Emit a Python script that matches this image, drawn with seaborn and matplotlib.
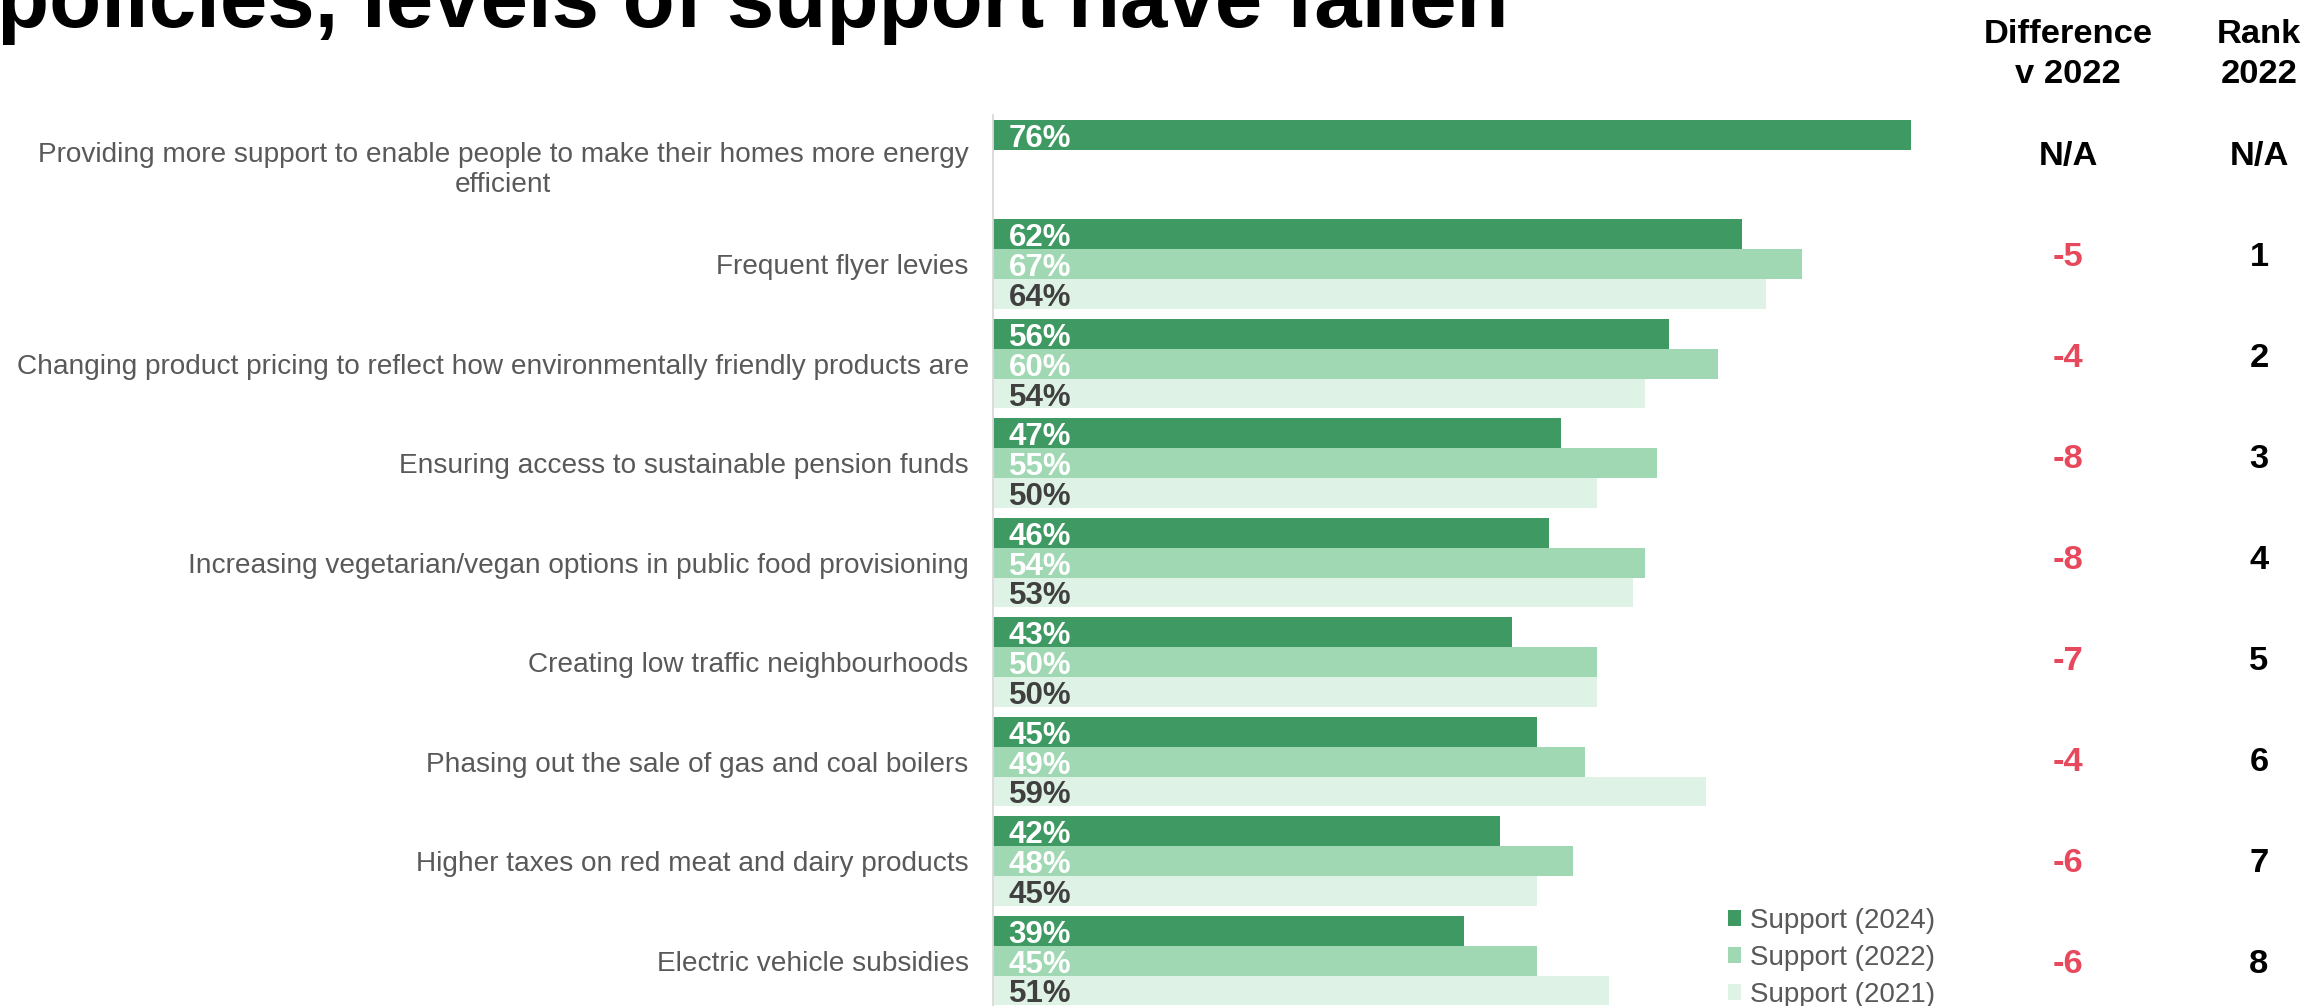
import numpy as np
import pandas as pd
import matplotlib
matplotlib.use("Agg")
import matplotlib.pyplot as plt
from matplotlib.patches import Patch
import seaborn as sns

# ---- data -----------------------------------------------------------------
policies = [
    "Providing more support to enable people to make their homes more energy\nefficient",
    "Frequent flyer levies",
    "Changing product pricing to reflect how environmentally friendly products are",
    "Ensuring access to sustainable pension funds",
    "Increasing vegetarian/vegan options in public food provisioning",
    "Creating low traffic neighbourhoods",
    "Phasing out the sale of gas and coal boilers",
    "Higher taxes on red meat and dairy products",
    "Electric vehicle subsidies",
]
support_2024 = [76, 62, 56, 47, 46, 43, 45, 42, 39]
support_2022 = [np.nan, 67, 60, 55, 54, 50, 49, 48, 45]
support_2021 = [np.nan, 64, 54, 50, 53, 50, 59, 45, 51]
rank_2022 = ["N/A", "1", "2", "3", "4", "5", "6", "7", "8"]
series_names = ["Support (2024)", "Support (2022)", "Support (2021)"]

title = "policies, levels of support have fallen"

# ---- styling ----------------------------------------------------------------
sns.set_style("white")
plt.rcParams["font.family"] = ["Liberation Sans", "DejaVu Sans"]

C_DARK = "#3E9962"
C_MID = "#A0D8B4"
C_LIGHT = "#DFF2E6"
palette = {series_names[0]: C_DARK, series_names[1]: C_MID, series_names[2]: C_LIGHT}
label_colors = {series_names[0]: "white", series_names[1]: "white", series_names[2]: "#404040"}
GREY_TXT = "#595959"
RED = "#E8485C"

W, H = 2308, 1006
fig = plt.figure(figsize=(W / 100, H / 100), dpi=100)

# long-form table for seaborn
df = pd.DataFrame({
    "policy": policies * 3,
    "series": np.repeat(series_names, len(policies)),
    "value": support_2024 + support_2022 + support_2021,
}).dropna()
df["policy"] = pd.Categorical(df["policy"], categories=policies, ordered=True)
df["series"] = pd.Categorical(df["series"], categories=series_names, ordered=True)

# axes placement in pixels
ax_left, ax_top, ax_bottom = 993, 115, 1010.4
px_per_pct = 12.08
xmax = 100
ax = fig.add_axes([ax_left / W, (H - ax_bottom) / H,
                   xmax * px_per_pct / W, (ax_bottom - ax_top) / H])

sns.barplot(data=df, y="policy", x="value", hue="series", hue_order=series_names,
            order=policies, palette=palette, saturation=1, width=0.9, orient="h",
            errorbar=None, linewidth=0, legend=False, ax=ax)

ax.set_xlim(0, xmax)
ax.set_ylim(len(policies) - 0.5, -0.5)
ax.set_xlabel("")
ax.set_ylabel("")
ax.set_xticks([])
for s in ["top", "right", "bottom"]:
    ax.spines[s].set_visible(False)
ax.spines["left"].set_color("#D9D9D9")
ax.spines["left"].set_linewidth(1.3)

# category labels and group separator ticks
ax.tick_params(axis="y", which="major", length=0, pad=17.5, labelsize=20.2, labelcolor=GREY_TXT)
ax.set_yticks(np.arange(-0.5, len(policies) + 0.5, 1.0), minor=True)
ax.tick_params(axis="y", which="minor", length=6, width=1.3, color="#D9D9D9", direction="out")
for lbl in ax.get_yticklabels():
    lbl.set_multialignment("center")

# value labels inside each bar
for cont, name in zip(ax.containers, series_names):
    for bar, v in zip(cont.patches, cont.datavalues):
        if np.isnan(v) or bar.get_width() == 0:
            continue
        ax.text(1.3, bar.get_y() + bar.get_height() - 0.03, f"{v:.0f}%",
                ha="left", va="baseline", fontsize=22.5, fontweight="bold",
                color=label_colors[name])

# legend
handles = [Patch(facecolor=palette[n], edgecolor="none", label=n) for n in series_names]
fig.legend(handles=handles, loc="upper left", bbox_to_anchor=(1728 / W, 1 - 908 / H),
           frameon=False, fontsize=20, labelcolor=GREY_TXT, handlelength=0.48,
           handleheight=0.5, handletextpad=0.3, labelspacing=0.4,
           borderpad=0, borderaxespad=0)

# title (runs off the top edge)
fig.text(-0.0015, 1 - 27 / H, title, ha="left", va="baseline",
         fontsize=61.4, fontweight="bold", color="black")

# right-hand columns: difference v 2022 and rank
col_diff_x, col_rank_x = 2068, 2259
col_fs = 24.8
for txt, base in [("Difference", 43), ("v 2022", 83)]:
    fig.text(col_diff_x / W, 1 - base / H, txt, ha="center", va="baseline",
             fontsize=col_fs, fontweight="bold", color="black")
for txt, base in [("Rank", 43), ("2022", 83)]:
    fig.text(col_rank_x / W, 1 - base / H, txt, ha="center", va="baseline",
             fontsize=col_fs, fontweight="bold", color="black")

row_base0, row_step = 165, 100.96
for i in range(len(policies)):
    d = support_2024[i] - support_2022[i]
    base = 1 - (row_base0 + row_step * i) / H
    if np.isnan(d):
        fig.text(col_diff_x / W, base, "N/A", ha="center", va="baseline",
                 fontsize=col_fs, fontweight="bold", color="black")
    else:
        fig.text(col_diff_x / W, base, f"{d:.0f}", ha="center", va="baseline",
                 fontsize=col_fs, fontweight="bold", color=RED)
    fig.text(col_rank_x / W, base, rank_2022[i], ha="center", va="baseline",
             fontsize=col_fs, fontweight="bold", color="black")

fig.savefig("out.png", dpi=100)
